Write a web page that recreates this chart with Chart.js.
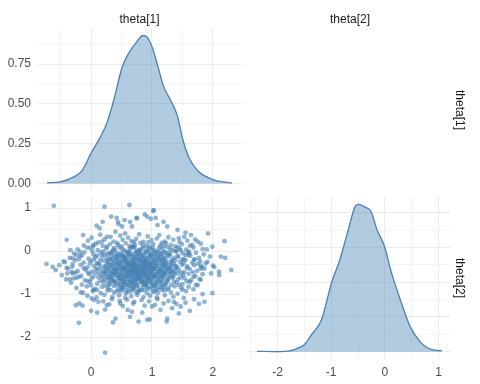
<!DOCTYPE html>
<html>
<head>
<meta charset="utf-8">
<script src="https://cdn.jsdelivr.net/npm/chart.js@4.4.0/dist/chart.umd.min.js"></script>
<style>
  body { margin: 0; background: #fff; width: 480px; height: 384px; position: relative; overflow: hidden;
         font-family: "Liberation Sans", Arial, sans-serif; }
  canvas { position: absolute; left: 0; top: 0; }
  .strip { position: absolute; font-size: 12px; color: #1a1a1a; white-space: nowrap;
           transform: translate(-50%, -50%); }
  .strip.side { transform: translate(-50%, -50%) rotate(90deg); }
</style>
</head>
<body>
<canvas id="dens1" width="480" height="384"></canvas>
<canvas id="pairs" width="480" height="384"></canvas>
<canvas id="dens2" width="480" height="384"></canvas>
<div class="strip" style="left:139.5px;top:19px">theta[1]</div>
<div class="strip" style="left:350px;top:19px">theta[2]</div>
<div class="strip side" style="left:460px;top:110px">theta[1]</div>
<div class="strip side" style="left:460px;top:278px">theta[2]</div>
<script>
// Parameter names
const params = ['theta[1]', 'theta[2]'];

// Density of theta[1] (diagonal, top left)
const dens1X = [-0.72, -0.51, -0.29, -0.15, 0, 0.15, 0.26, 0.37, 0.51, 0.62, 0.75, 0.85, 0.92, 1.0, 1.09, 1.19, 1.31, 1.42, 1.51, 1.61, 1.75, 2.0, 2.31];
const dens1Y = [0.005, 0.01, 0.04, 0.08, 0.19, 0.29, 0.38, 0.52, 0.73, 0.82, 0.89, 0.93, 0.92, 0.86, 0.745, 0.61, 0.52, 0.42, 0.27, 0.16, 0.08, 0.025, 0.003];

// Density of theta[2] (diagonal, bottom right)
const dens2X = [-2.38, -2.0, -1.77, -1.61, -1.5, -1.37, -1.18, -0.99, -0.84, -0.68, -0.56, -0.5, -0.37, -0.26, -0.15, -0.01, 0.12, 0.28, 0.47, 0.65, 0.87, 1.06];
const dens2Y = [0.002, 0.0, 0.005, 0.027, 0.05, 0.12, 0.23, 0.5, 0.66, 0.88, 1.04, 1.06, 1.04, 1.01, 0.88, 0.76, 0.57, 0.38, 0.18, 0.074, 0.014, 0.007];

// Draws: [theta[1], theta[2]] (off diagonal, bottom left)
const draws = [
  [-0.61,1.05],[0.22,1.03],[0.63,1.07],[1.02,0.93],[1.03,0.95],[0.33,0.80],[0.42,0.77],[0.19,0.68],[0.44,0.68],
  [0.09,0.59],[0.14,0.53],[0.51,0.57],[0.64,0.68],[0.75,0.76],[0.75,0.77],[0.92,0.80],[1.06,0.77],[1.19,0.68],
  [1.09,0.60],[1.25,0.57],[1.42,0.49],[1.55,0.43],[1.64,0.37],[1.92,0.41],[2.19,0.23],[1.75,0.22],[1.83,0.05],
  [1.99,0.10],[1.66,0.14],[1.53,0.33],[2.13,-0.13],[2.20,-0.16],[1.91,-0.25],[1.80,-0.34],[2.02,-0.37],[2.30,-0.44],
  [2.10,-0.48],[1.69,-0.21],[1.61,-0.05],[1.31,0.14],[1.47,0.02],[-0.40,0.26],[-0.13,0.37],[0.01,0.31],[-0.34,0.02],
  [-0.73,-0.30],[-0.63,-0.37],[-0.43,-0.26],[-0.30,-0.17],[-0.24,-0.09],[-0.18,-0.02],[-0.07,0.08],[0.04,0.14],
  [0.18,0.22],[0.26,0.33],[0.40,0.45],[0.56,0.41],[0.67,0.57],[0.55,0.72],[0.98,0.75],[0.88,0.85],[0.45,0.62],
  [-0.39,-0.52],[-0.35,-0.66],[-0.29,-0.64],[-0.26,-0.50],[-0.13,-0.97],[0.01,-1.10],[-0.25,-1.26],[-0.19,-1.22],
  [-0.14,-1.27],[0.00,-1.39],[0.10,-1.43],[0.23,-1.36],[0.36,-1.66],[0.40,-1.57],[-0.20,-1.67],[0.23,-2.36],
  [0.48,-1.22],[0.60,-1.37],[0.64,-1.53],[0.78,-1.64],[0.04,-0.91],[0.12,-1.18],[0.26,-1.26],[1.97,-0.52],
  [2.10,-0.56],[1.80,-0.67],[1.75,-0.79],[1.83,-1.00],[1.99,-0.98],[1.69,-1.12],[1.86,-1.18],[1.77,-1.23],
  [1.55,-1.20],[1.62,-1.39],[1.44,-1.45],[1.25,-1.57],[1.24,-1.64],[0.92,-1.60],[0.84,-1.43],[1.00,-1.29],
  [1.14,-1.37],[1.33,-1.33],[1.47,-1.29],[1.36,-1.18],[1.19,-1.22],[0.67,-1.41],[0.96,-1.59],
  [0.15,0.38],[0.32,0.33],[0.48,0.36],[0.61,0.31],[0.79,0.39],[0.93,0.34],[1.12,0.37],[1.27,0.32],[1.44,0.30],
  [-0.05,0.24],[0.22,0.27],[0.37,0.22],[0.52,0.26],[0.66,0.23],[0.74,0.28],[0.86,0.21],[0.99,0.25],[1.08,0.29],
  [1.21,0.22],[1.35,0.26],[1.58,0.24],[1.71,0.27],
  [-0.12,0.13],[0.08,0.17],[0.19,0.12],[0.31,0.16],[0.44,0.14],[0.57,0.18],[0.63,0.11],[0.72,0.15],[0.81,0.19],
  [0.90,0.12],[1.02,0.16],[1.14,0.13],[1.23,0.18],[1.38,0.11],[1.49,0.16],[1.62,0.12],[1.80,0.17],
  [-0.22,0.04],[-0.02,0.07],[0.11,0.02],[0.25,0.06],[0.36,0.03],[0.47,0.08],[0.55,0.01],[0.64,0.05],[0.71,0.09],
  [0.78,0.02],[0.85,0.06],[0.93,0.03],[1.01,0.08],[1.09,0.01],[1.17,0.05],[1.26,0.09],[1.34,0.02],[1.45,0.06],
  [1.56,0.03],[1.68,0.08],[1.90,0.04],
  [-0.28,-0.06],[-0.11,-0.03],[0.04,-0.08],[0.16,-0.04],[0.27,-0.07],[0.35,-0.02],[0.43,-0.06],[0.51,-0.09],
  [0.58,-0.03],[0.66,-0.07],[0.73,-0.01],[0.80,-0.05],[0.87,-0.09],[0.94,-0.02],[1.00,-0.06],[1.07,-0.04],
  [1.15,-0.08],[1.22,-0.03],[1.30,-0.07],[1.39,-0.01],[1.50,-0.05],[1.59,-0.09],[1.72,-0.04],[1.85,-0.08],
  [-0.35,-0.16],[-0.18,-0.12],[-0.04,-0.18],[0.07,-0.14],[0.18,-0.11],[0.26,-0.17],[0.33,-0.13],[0.41,-0.19],
  [0.48,-0.12],[0.55,-0.16],[0.61,-0.11],[0.68,-0.18],[0.74,-0.14],[0.81,-0.12],[0.88,-0.17],[0.95,-0.13],
  [1.01,-0.19],[1.08,-0.11],[1.14,-0.15],[1.21,-0.18],[1.28,-0.12],[1.36,-0.16],[1.43,-0.14],[1.52,-0.19],
  [1.63,-0.11],[1.77,-0.16],[1.95,-0.13],
  [-0.45,-0.24],[-0.26,-0.21],[-0.12,-0.27],[0.00,-0.23],[0.10,-0.28],[0.20,-0.22],[0.28,-0.26],[0.36,-0.21],
  [0.43,-0.29],[0.50,-0.24],[0.56,-0.20],[0.62,-0.27],[0.69,-0.23],[0.75,-0.29],[0.80,-0.21],[0.86,-0.25],
  [0.92,-0.22],[0.98,-0.28],[1.04,-0.24],[1.10,-0.20],[1.17,-0.26],[1.24,-0.23],[1.31,-0.28],[1.38,-0.22],
  [1.46,-0.25],[1.55,-0.21],[1.66,-0.27],[1.79,-0.24],[1.88,-0.29],
  [-0.52,-0.33],[-0.31,-0.37],[-0.17,-0.32],[-0.06,-0.38],[0.05,-0.34],[0.14,-0.31],[0.22,-0.36],[0.30,-0.33],
  [0.37,-0.39],[0.44,-0.31],[0.50,-0.35],[0.55,-0.38],[0.61,-0.32],[0.66,-0.36],[0.71,-0.31],[0.76,-0.38],
  [0.82,-0.33],[0.87,-0.37],[0.91,-0.31],[0.96,-0.35],[1.02,-0.39],[1.07,-0.32],[1.13,-0.36],[1.19,-0.31],
  [1.26,-0.38],[1.33,-0.34],[1.41,-0.37],[1.49,-0.32],[1.58,-0.36],[1.69,-0.33],[1.82,-0.38],[2.00,-0.34],
  [-0.58,-0.44],[-0.38,-0.41],[-0.22,-0.47],[-0.09,-0.43],[0.02,-0.48],[0.11,-0.42],[0.19,-0.46],[0.27,-0.41],
  [0.34,-0.49],[0.41,-0.44],[0.47,-0.40],[0.53,-0.46],[0.58,-0.42],[0.64,-0.48],[0.69,-0.43],[0.74,-0.47],
  [0.79,-0.41],[0.84,-0.45],[0.89,-0.49],[0.94,-0.42],[0.99,-0.46],[1.05,-0.41],[1.11,-0.48],[1.16,-0.43],
  [1.23,-0.46],[1.29,-0.41],[1.37,-0.47],[1.44,-0.43],[1.53,-0.49],[1.62,-0.42],[1.74,-0.46],[1.86,-0.41],
  [-0.48,-0.56],[-0.30,-0.52],[-0.16,-0.58],[-0.03,-0.54],[0.08,-0.51],[0.17,-0.57],[0.25,-0.53],[0.32,-0.59],
  [0.39,-0.51],[0.46,-0.55],[0.52,-0.58],[0.57,-0.52],[0.63,-0.56],[0.68,-0.51],[0.73,-0.59],[0.78,-0.54],
  [0.83,-0.57],[0.88,-0.52],[0.93,-0.56],[0.98,-0.50],[1.03,-0.58],[1.09,-0.53],[1.15,-0.57],[1.21,-0.51],
  [1.28,-0.55],[1.35,-0.59],[1.42,-0.52],[1.51,-0.56],[1.60,-0.53],[1.71,-0.58],[1.83,-0.54],
  [-0.41,-0.66],[-0.24,-0.62],[-0.10,-0.68],[0.01,-0.64],[0.12,-0.61],[0.21,-0.67],[0.29,-0.63],[0.37,-0.69],
  [0.44,-0.62],[0.51,-0.66],[0.57,-0.61],[0.63,-0.68],[0.69,-0.64],[0.75,-0.67],[0.81,-0.62],[0.87,-0.69],
  [0.93,-0.63],[0.99,-0.66],[1.06,-0.61],[1.12,-0.68],[1.19,-0.64],[1.26,-0.67],[1.34,-0.62],[1.43,-0.66],
  [1.53,-0.63],[1.64,-0.68],[1.78,-0.65],
  [-0.33,-0.74],[-0.15,-0.78],[-0.02,-0.72],[0.10,-0.76],[0.20,-0.73],[0.29,-0.79],[0.38,-0.71],[0.46,-0.77],
  [0.53,-0.74],[0.60,-0.78],[0.67,-0.72],[0.73,-0.76],[0.80,-0.71],[0.86,-0.79],[0.93,-0.73],[1.00,-0.77],
  [1.07,-0.72],[1.15,-0.78],[1.23,-0.74],[1.31,-0.79],[1.40,-0.73],[1.50,-0.77],[1.62,-0.72],[1.72,-0.79],
  [-0.24,-0.86],[-0.07,-0.82],[0.06,-0.88],[0.18,-0.83],[0.28,-0.87],[0.37,-0.81],[0.45,-0.89],[0.54,-0.84],
  [0.62,-0.87],[0.70,-0.82],[0.78,-0.88],[0.85,-0.83],[0.93,-0.86],[1.01,-0.81],[1.09,-0.88],[1.18,-0.84],
  [1.27,-0.87],[1.37,-0.82],[1.48,-0.86],[1.60,-0.83],[1.68,-0.89],
  [-0.17,-0.96],[0.03,-0.93],[0.16,-0.98],[0.27,-0.92],[0.38,-0.97],[0.48,-0.94],[0.57,-0.99],[0.66,-0.93],
  [0.74,-0.96],[0.83,-0.91],[0.92,-0.98],[1.01,-0.94],[1.10,-0.97],[1.20,-0.92],[1.31,-0.96],[1.42,-0.99],[1.56,-0.93],
  [-0.06,-1.04],[0.09,-1.08],[0.22,-1.02],[0.35,-1.07],[0.46,-1.03],[0.56,-1.09],[0.66,-1.05],[0.76,-1.02],
  [0.86,-1.07],[0.97,-1.04],[1.08,-1.08],[1.21,-1.03],[1.35,-1.06],[1.52,-1.09],
  [0.05,-1.14],[0.20,-1.17],[0.34,-1.12],[0.47,-1.16],[0.59,-1.13],[0.71,-1.18],[0.83,-1.14],[0.95,-1.17],
  [1.09,-1.12],[1.27,-1.16],
  [0.30,-1.24],[0.52,-1.28],[0.69,-1.22],[0.88,-1.27],[1.05,-1.25],[1.40,-1.23],
  [0.45,-0.10],[0.60,-0.20],[0.72,-0.08],[0.90,-0.16],[1.05,-0.29],[0.83,-0.30],[0.66,-0.42],[0.95,-0.40],
  [1.20,-0.40],[0.40,-0.38],[0.55,-0.60],[0.78,-0.52],[0.90,-0.60],[1.10,-0.62],[0.68,-0.75],[0.85,-0.72],
  [1.00,-0.85],[0.50,-0.85],[0.30,-0.60],[0.25,-0.45],[1.30,-0.50],[1.25,-0.70],[0.62,-0.30],[0.75,-0.38],
  [0.88,-0.46],[1.00,-0.52],[0.72,-0.60],[0.58,-0.50],[0.48,-0.70],[0.96,-0.70],[1.15,-0.47],[0.82,-0.22],
  [0.68,-0.55],[0.80,-0.65],[0.93,-0.25],[1.12,-0.20],[0.36,-0.28],[0.42,-0.52],[0.58,-0.92],[0.77,-0.95],
  [0.52,-0.15],[1.02,0.02],[0.70,0.10],[0.85,0.12],[0.30,-0.05],
  [0.02,0.00],[0.20,-0.01],[0.40,0.01],[0.60,-0.02],[0.76,0.00],[0.90,-0.01],[1.04,0.00],[1.20,-0.02],[1.40,0.00],[1.60,-0.01],
  [-0.15,-0.10],[0.10,-0.11],[0.22,-0.09],[0.38,-0.10],[0.54,-0.12],[0.64,-0.10],[0.77,-0.11],[0.84,-0.09],
  [0.98,-0.10],[1.11,-0.12],[1.25,-0.10],[1.42,-0.11],[1.55,-0.09],
  [-0.20,-0.19],[0.05,-0.20],[0.15,-0.21],[0.30,-0.19],[0.46,-0.20],[0.53,-0.22],[0.65,-0.20],[0.72,-0.21],
  [0.78,-0.19],[0.85,-0.20],[0.96,-0.21],[1.07,-0.19],[1.19,-0.20],[1.33,-0.21],[1.50,-0.20],[1.70,-0.19],
  [-0.30,-0.30],[-0.02,-0.29],[0.12,-0.30],[0.25,-0.31],[0.40,-0.30],[0.47,-0.28],[0.58,-0.30],[0.67,-0.31],
  [0.73,-0.30],[0.79,-0.28],[0.89,-0.30],[0.94,-0.31],[1.00,-0.30],[1.14,-0.29],[1.22,-0.31],[1.36,-0.30],[1.52,-0.29],[1.75,-0.30],
  [-0.40,-0.39],[-0.12,-0.40],[0.08,-0.41],[0.16,-0.39],[0.32,-0.40],[0.45,-0.42],[0.52,-0.40],[0.57,-0.39],
  [0.63,-0.41],[0.70,-0.40],[0.78,-0.42],[0.85,-0.40],[0.91,-0.39],[1.03,-0.41],[1.09,-0.40],[1.25,-0.42],[1.40,-0.40],[1.57,-0.39],[1.80,-0.41],
  [-0.32,-0.49],[-0.05,-0.50],[0.14,-0.51],[0.22,-0.49],[0.37,-0.50],[0.49,-0.51],[0.61,-0.49],[0.71,-0.50],
  [0.76,-0.51],[0.82,-0.49],[0.92,-0.50],[0.97,-0.51],[1.07,-0.49],[1.19,-0.50],[1.33,-0.51],[1.48,-0.50],[1.67,-0.49],
  [-0.20,-0.60],[0.04,-0.59],[0.20,-0.61],[0.35,-0.60],[0.47,-0.59],[0.60,-0.60],[0.66,-0.61],[0.77,-0.60],
  [0.85,-0.59],[0.95,-0.61],[1.02,-0.60],[1.16,-0.59],[1.30,-0.60],[1.47,-0.61],[1.68,-0.60],
  [-0.05,-0.70],[0.15,-0.69],[0.33,-0.70],[0.42,-0.71],[0.55,-0.70],[0.64,-0.69],[0.72,-0.70],[0.83,-0.71],
  [0.90,-0.70],[1.03,-0.69],[1.17,-0.70],[1.36,-0.71],[1.57,-0.70],
  [0.00,-0.80],[0.24,-0.81],[0.41,-0.80],[0.57,-0.79],[0.65,-0.81],[0.76,-0.80],[0.90,-0.79],[1.05,-0.81],[1.20,-0.80],[1.44,-0.79],
  [0.10,-0.90],[0.32,-0.91],[0.52,-0.90],[0.70,-0.89],[0.88,-0.91],[1.06,-0.90],[1.25,-0.89],[1.50,-0.90],
  [0.03,0.10],[0.26,0.10],[0.50,0.11],[0.68,0.09],[0.95,0.10],[1.20,0.11],[1.42,0.09],
  [0.12,0.20],[0.43,0.19],[0.70,0.21],[0.94,0.20],[1.16,0.19],[1.45,0.21],
  [0.43,-0.15],[0.57,-0.25],[0.71,-0.17],[0.87,-0.27],[1.02,-0.14],[1.18,-0.33],[0.51,-0.44],[0.66,-0.35],
  [0.83,-0.43],[0.99,-0.37],[1.13,-0.55],[0.47,-0.64],[0.61,-0.72],[0.76,-0.63],[0.92,-0.67],[1.08,-0.75],
  [0.55,-0.33],[0.69,-0.47],[0.86,-0.55],[1.01,-0.45],[0.38,-0.47],[0.62,-0.07],[0.80,-0.02],[0.97,-0.07],
  [1.15,-0.05],[0.34,-0.19],[0.73,-0.34],[0.88,-0.36],[0.59,-0.57],[0.74,-0.53],[0.97,-0.58],[1.22,-0.57],
  [0.53,-0.79],[0.71,-0.84],[0.89,-0.77],[1.13,-0.84],[0.27,-0.70],[0.31,-0.52],[1.28,-0.33],[1.34,-0.45],
  [0.33,-0.04],[0.41,-0.13],[0.49,-0.05],[0.56,-0.14],[0.63,-0.02],[0.69,-0.12],[0.76,-0.06],[0.83,-0.15],
  [0.89,-0.04],[0.96,-0.13],[1.04,-0.09],[1.11,-0.03],[1.19,-0.13],[1.27,-0.05],
  [0.27,-0.24],[0.35,-0.30],[0.42,-0.22],[0.50,-0.28],[0.57,-0.21],[0.64,-0.29],[0.70,-0.25],[0.77,-0.20],
  [0.84,-0.28],[0.90,-0.23],[0.97,-0.30],[1.03,-0.22],[1.09,-0.27],[1.16,-0.21],[1.23,-0.28],[1.32,-0.24],
  [0.24,-0.38],[0.32,-0.34],[0.39,-0.42],[0.46,-0.35],[0.53,-0.41],[0.60,-0.34],[0.67,-0.40],[0.73,-0.43],
  [0.80,-0.36],[0.86,-0.42],[0.93,-0.34],[1.00,-0.41],[1.06,-0.35],[1.14,-0.42],[1.21,-0.36],[1.30,-0.40],[1.39,-0.35],
  [0.22,-0.52],[0.30,-0.46],[0.37,-0.54],[0.44,-0.47],[0.51,-0.53],[0.58,-0.46],[0.65,-0.52],[0.71,-0.45],
  [0.78,-0.55],[0.85,-0.48],[0.91,-0.53],[0.98,-0.46],[1.05,-0.54],[1.12,-0.47],[1.20,-0.53],[1.28,-0.47],[1.37,-0.53],
  [0.26,-0.60],[0.34,-0.66],[0.41,-0.58],[0.49,-0.64],[0.56,-0.67],[0.62,-0.59],[0.70,-0.65],[0.77,-0.58],
  [0.83,-0.66],[0.90,-0.59],[0.97,-0.65],[1.04,-0.58],[1.11,-0.66],[1.18,-0.59],[1.27,-0.64],
  [0.31,-0.76],[0.39,-0.72],[0.47,-0.79],[0.54,-0.73],[0.62,-0.80],[0.69,-0.74],[0.76,-0.79],[0.84,-0.73],
  [0.91,-0.80],[0.98,-0.74],[1.06,-0.79],[1.14,-0.73],[1.22,-0.78],
  [0.42,-0.93],[0.50,-0.86],[0.61,-0.95],[0.68,-0.87],[0.80,-0.92],[0.95,-0.87],[1.04,-0.95],[1.16,-0.90],
  [0.38,0.07],[0.52,0.04],[0.66,0.10],[0.81,0.03],[0.97,0.06],[1.12,0.08],[1.30,0.04],
  [0.72,-0.33],[0.81,-0.47],[0.66,-0.50],[0.90,-0.38],[0.77,-0.44],[0.86,-0.31],[0.70,-0.27],[0.95,-0.48],
  [0.63,-0.45],[0.83,-0.58],[1.00,-0.33],[0.74,-0.66]
];

// Axis ticks (empty label = minor grid line)
const theta1Ticks = [-0.5, 0, 0.5, 1, 1.5, 2];
const theta1Labels = ['', '0', '', '1', '', '2'];
const theta2Ticks = [-2.5, -2, -1.5, -1, -0.5, 0, 0.5, 1];
const theta2Labels = ['', '-2', '', '-1', '', '0', '', '1'];
const densTicks = [0, 0.125, 0.25, 0.375, 0.5, 0.625, 0.75, 0.875, 1];
const densLabels = ['0.00', '', '0.25', '', '0.50', '', '0.75', '', '1.00'];

const lineBlue = '#4a80b4';
const fillBlue = 'rgba(70,130,180,0.42)';
const pointBlue = 'rgba(70,130,180,0.6)';
const tickFont = { family: '"Liberation Sans", Arial, sans-serif', size: 12 };

// Build a linear axis with fixed ticks, major/minor grid and fixed size
function axis(min, max, ticks, labels, showLabels, size, horizontal) {
    return {
        type: 'linear',
        min: min,
        max: max,
        border: { display: false },
        afterBuildTicks: s => { s.ticks = ticks.filter(v => v >= min && v <= max).map(v => ({ value: v })); },
        afterFit: s => { if (horizontal) s.height = size; else s.width = size; },
        grid: {
            drawTicks: false,
            color: ctx => labels[ticks.indexOf(ctx.tick && ctx.tick.value)] ? '#ebebeb' : '#f4f4f4',
            lineWidth: 1
        },
        ticks: {
            display: showLabels,
            padding: horizontal ? 6 : 7,
            color: '#4d4d4d',
            font: tickFont,
            maxRotation: 0,
            autoSkip: false,
            callback: v => labels[ticks.indexOf(v)] || ''
        }
    };
}

function baseOptions(padding, x, y) {
    return {
        responsive: false,
        animation: false,
        events: [],
        layout: { padding: padding },
        plugins: { legend: { display: false }, tooltip: { enabled: false } },
        scales: { x: x, y: y }
    };
}

function densityDataset(xs, ys) {
    return {
        data: xs.map((v, i) => ({ x: v, y: ys[i] })),
        borderColor: lineBlue,
        borderWidth: 1.3,
        backgroundColor: fillBlue,
        fill: 'origin',
        pointRadius: 0,
        cubicInterpolationMode: 'monotone'
    };
}

// theta[1] density
new Chart(document.getElementById('dens1'), {
    type: 'line',
    data: { datasets: [densityDataset(dens1X, dens1Y)] },
    options: baseOptions({ left: 0, right: 239, top: 28, bottom: 193 },
        axis(-0.87, 2.46, theta1Ticks, theta1Labels, false, 0, true),
        axis(-0.047, 0.977, densTicks, densLabels, true, 38, false))
});

// theta[1] vs theta[2] scatter
new Chart(document.getElementById('pairs'), {
    type: 'scatter',
    data: {
        datasets: [{
            label: params[1] + ' vs ' + params[0],
            data: draws.map(d => ({ x: d[0], y: d[1] })),
            backgroundColor: pointBlue,
            borderWidth: 0,
            pointRadius: 2.4
        }]
    },
    options: baseOptions({ left: 0, right: 239, top: 197, bottom: 0 },
        axis(-0.87, 2.46, theta1Ticks, theta1Labels, true, 25, true),
        axis(-2.51, 1.256, theta2Ticks, theta2Labels, true, 38, false))
});

// theta[2] density
new Chart(document.getElementById('dens2'), {
    type: 'line',
    data: { datasets: [densityDataset(dens2X, dens2Y)] },
    options: baseOptions({ left: 249, right: 29, top: 197, bottom: 0 },
        axis(-2.53, 1.23, theta2Ticks, theta2Labels, true, 25, true),
        axis(-0.053, 1.113, densTicks, densLabels, false, 0, false))
});
</script>
</body>
</html>
